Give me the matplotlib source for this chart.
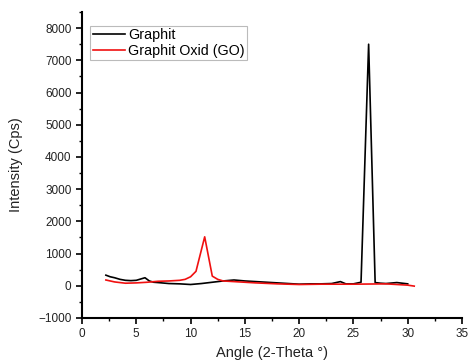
import matplotlib
matplotlib.use("Agg")
import matplotlib.pyplot as plt
from matplotlib.ticker import MultipleLocator

plt.rcParams['font.family'] = ['Liberation Sans', 'DejaVu Sans']

graphit_x = [2.2, 2.6, 3.0, 3.5, 4.0, 4.5, 5.0, 5.4, 5.8, 6.2, 6.6, 7.0, 8.0, 9.0, 10.0, 11.0,
             12.0, 13.0, 14.0, 15.0, 16.0, 17.0, 18.0, 19.0, 20.0, 21.0, 22.0, 23.0, 23.8,
             24.3, 25.0, 25.7, 26.4, 27.0, 27.5, 28.0, 29.0, 29.5, 30.0]
graphit_y = [330, 280, 250, 200, 170, 160, 170, 210, 250, 150, 110, 100, 70, 60, 40, 70,
             110, 150, 180, 150, 130, 110, 90, 70, 50, 60, 60, 70, 130,
             60, 60, 110, 7500, 100, 80, 70, 100, 80, 60]

go_x = [2.2, 3.0, 4.0, 5.0, 6.0, 7.0, 8.0, 9.0, 9.5, 10.0, 10.5, 11.3, 12.0, 12.5, 13.0,
        14.0, 16.0, 18.0, 20.0, 22.0, 25.0, 28.0, 30.0, 30.6]
go_y = [180, 120, 80, 90, 110, 140, 150, 170, 200, 280, 450, 1520, 300, 200, 150,
        130, 90, 60, 40, 50, 50, 60, 20, -10]

fig = plt.figure(figsize=(4.68, 3.62), dpi=100)
ax = fig.add_axes([82/468, 1 - 318/362, (462-82)/468, (318-12)/362])

ax.plot(graphit_x, graphit_y, color='black', lw=1.2, label='Graphit')
ax.plot(go_x, go_y, color='#f01010', lw=1.2, label='Graphit Oxid (GO)')

ax.set_xlim(0, 35)
ax.set_ylim(-1000, 8500)
ax.xaxis.set_major_locator(MultipleLocator(5))
ax.xaxis.set_minor_locator(MultipleLocator(2.5))
ax.yaxis.set_major_locator(MultipleLocator(1000))
ax.yaxis.set_minor_locator(MultipleLocator(500))
ax.set_yticks(range(-1000, 9000, 1000))
ax.spines['top'].set_visible(False)
ax.spines['right'].set_visible(False)
ax.spines['left'].set_linewidth(1.5)
ax.spines['bottom'].set_linewidth(1.5)
ax.tick_params(which='major', direction='out', length=4, width=1.2, labelsize=8.5, colors='black', labelcolor='#222222')
ax.tick_params(which='minor', direction='out', length=2.5, width=1.0)

ax.set_xlabel('Angle (2-Theta °)', fontsize=10.5, labelpad=4, color='#222222')
ax.set_ylabel('Intensity (Cps)', fontsize=10.5, labelpad=11, color='#222222')

leg = ax.legend(loc='upper left', bbox_to_anchor=(0.022, 0.955), fontsize=10.3, frameon=True,
                fancybox=False, borderpad=0.15, labelspacing=0.15, handlelength=2.3,
                handletextpad=0.2, borderaxespad=0)
leg.get_frame().set_edgecolor('#aaaaaa')
leg.get_frame().set_linewidth(0.8)

fig.savefig('out.png', dpi=100)
